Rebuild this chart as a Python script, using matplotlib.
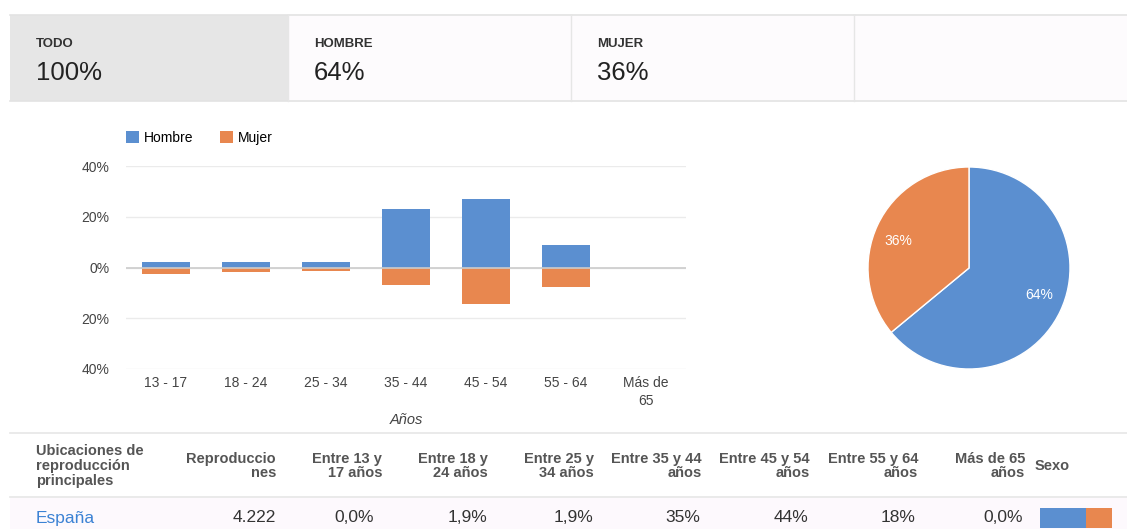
import matplotlib
matplotlib.use("Agg")
import matplotlib.pyplot as plt
from matplotlib.patches import Rectangle
from matplotlib.ticker import FuncFormatter

plt.rcParams['font.family'] = ['Liberation Sans', 'DejaVu Sans']

# ---- data ----
tabs = ["TODO", "HOMBRE", "MUJER"]
tab_values = ["100%", "64%", "36%"]
age_groups = ["13 - 17", "18 - 24", "25 - 34", "35 - 44", "45 - 54", "55 - 64", "Más de\n65"]
hombre = [2.0, 2.0, 2.0, 23.0, 26.8, 9.0, 0.0]
mujer = [2.4, 1.6, 1.2, 7.0, 14.2, 7.5, 0.0]
yticks = [-40, -20, 0, 20, 40]
series_names = ["Hombre", "Mujer"]
pie_values = [64, 36]
pie_labels = ["64%", "36%"]
table_headers = ["Ubicaciones de\nreproducción\nprincipales", "Reproduccio\nnes", "Entre 13 y\n17 años",
                 "Entre 18 y\n24 años", "Entre 25 y\n34 años", "Entre 35 y 44\naños", "Entre 45 y 54\naños",
                 "Entre 55 y 64\naños", "Más de 65\naños", "Sexo"]
table_row = ["España", "4.222", "0,0%", "1,9%", "1,9%", "35%", "44%", "18%", "0,0%"]
sexo_share = [64, 36]

BLUE = "#5b8fd0"
ORANGE = "#e8874f"

W, H = 1127, 529
fig = plt.figure(figsize=(W / 100, H / 100), dpi=100)
fig.patch.set_facecolor("white")


def fx(x):
    return x / W


def fy(y):
    return 1 - y / H


# background overlay axes in pixel coords
bg = fig.add_axes([0, 0, 1, 1])
bg.set_xlim(0, W)
bg.set_ylim(H, 0)
bg.axis("off")

# ---- tabs ----
tab_edges = [10, 288, 571, 854, 1127]
bg.add_patch(Rectangle((10, 15), 278, 86, facecolor="#e6e6e6", edgecolor="none"))
bg.add_patch(Rectangle((288, 15), 1127 - 288, 86, facecolor="#fdfbfd", edgecolor="none"))
bg.plot([10, 1127], [15, 15], color="#e3e3e3", lw=1.2)
bg.plot([10, 1127], [101, 101], color="#e3e3e3", lw=1.2)
for xe in tab_edges[1:-1]:
    bg.plot([xe, xe], [15, 101], color="#e6e6e6", lw=1)
for i, (t, v) in enumerate(zip(tabs, tab_values)):
    x0 = tab_edges[i] + 26
    bg.text(x0, 44, t, fontsize=9.5, fontweight="bold", color="#333333", va="center", ha="left")
    bg.text(x0, 73, v, fontsize=18.5, color="#222222", va="center", ha="left")

# ---- bar chart ----
ax = fig.add_axes([fx(126), fy(369), fx(686 - 126), (369 - 166) / H])
x = list(range(len(age_groups)))
ax.bar(x, hombre, width=0.6, color=BLUE, label=series_names[0], zorder=3)
ax.bar(x, [-m for m in mujer], width=0.6, color=ORANGE, label=series_names[1], zorder=3)
ax.set_xlim(-0.5, len(age_groups) - 0.5)
ax.set_ylim(-40, 40)
ax.set_yticks(yticks)
ax.yaxis.set_major_formatter(FuncFormatter(lambda v, p: f"{abs(int(v))}%"))
ax.set_xticks(x)
ax.set_xticklabels(age_groups, linespacing=1.35)
for s in ax.spines.values():
    s.set_visible(False)
ax.tick_params(length=0, labelsize=10, labelcolor="#444444")
ax.tick_params(axis="y", pad=12)
ax.tick_params(axis="x", pad=5)
ax.grid(axis="y", color="#ebebeb", lw=1, zorder=0)
ax.axhline(0, color="#cccccc", lw=1.2, zorder=4)
ax.set_xlabel("Años", fontsize=10.5, style="italic", color="#444444", labelpad=4)
ax.legend(loc="lower left", bbox_to_anchor=(0.0, 1.105), ncol=2, frameon=False, fontsize=10,
          handlelength=0.95, handleheight=0.95, handletextpad=0.35, columnspacing=1.9, borderaxespad=0,
          borderpad=0)

# ---- pie ----
r = 101
cx, cy = 969, 268
pax = fig.add_axes([fx(cx - r), fy(cy + r), fx(2 * r), 2 * r / H])
wedges, texts = pax.pie(pie_values, colors=[BLUE, ORANGE], startangle=90, counterclock=False,
                        labels=pie_labels, labeldistance=0.62,
                        wedgeprops=dict(edgecolor="white", linewidth=1),
                        textprops=dict(color="white", fontsize=10))
pax.set_aspect("equal")
pax.set_xlim(-1, 1)
pax.set_ylim(-1, 1)

# ---- table ----
bg.plot([10, 1127], [433, 433], color="#e6e6e6", lw=1.2)
bg.plot([10, 1127], [497, 497], color="#e6e6e6", lw=1.2)
bg.add_patch(Rectangle((10, 498), 1117, 31, facecolor="#fdf9fd", edgecolor="none"))
hdr_right = [None, 276, 382, 488, 594, 702, 810, 918, 1025]
hdr_kw = dict(fontsize=10.5, fontweight="bold", color="#555555", linespacing=1.05)
bg.text(36, 466, table_headers[0], ha="left", va="center", **hdr_kw)
for i in range(1, 9):
    bg.text(hdr_right[i], 466, table_headers[i], ha="right", va="center", multialignment="right", **hdr_kw)
bg.text(1035, 466, table_headers[9], ha="left", va="center", **hdr_kw)

val_right = [None, 276, 374, 487, 593, 700, 808, 915, 1023]
bg.text(36, 518, table_row[0], ha="left", va="center", fontsize=12.5, color="#3b82d4")
for i in range(1, 9):
    bg.text(val_right[i], 518, table_row[i], ha="right", va="center", fontsize=12.5, color="#333333")

# sexo bar
sx0, sw = 1040, 72
bw = sw * sexo_share[0] / sum(sexo_share)
bg.add_patch(Rectangle((sx0, 508), bw, 20, facecolor=BLUE, edgecolor="none"))
bg.add_patch(Rectangle((sx0 + bw, 508), sw - bw, 20, facecolor=ORANGE, edgecolor="none"))

fig.savefig("out.png", dpi=100, facecolor="white")
